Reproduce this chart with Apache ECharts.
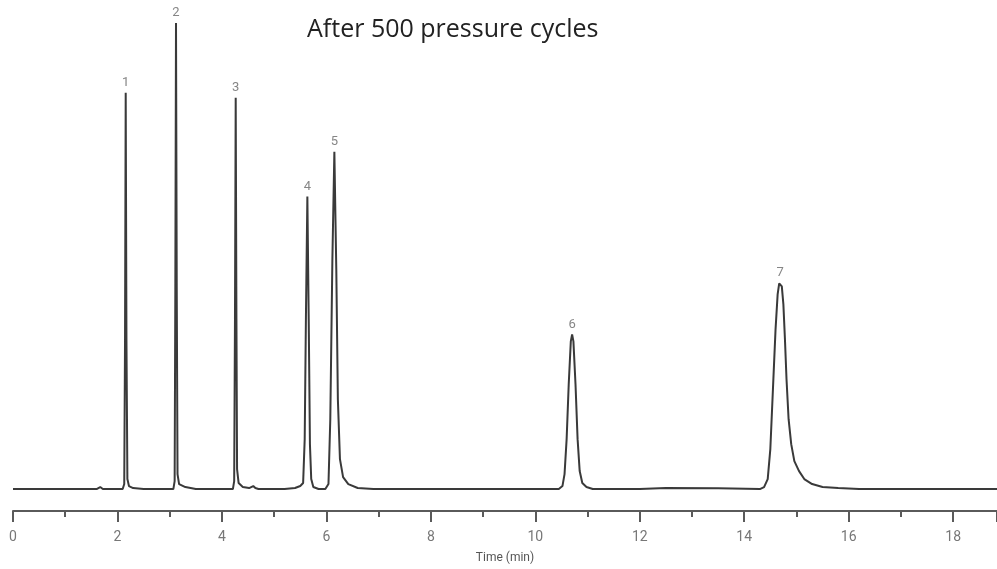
<!DOCTYPE html>
<html>
<head>
<meta charset="utf-8">
<script src="https://cdn.jsdelivr.net/npm/echarts@6/dist/echarts.min.js"></script>
<style>html,body{margin:0;padding:0;background:#fff;}#c{width:997px;height:569px;}</style>
</head>
<body>
<div id="c"></div>
<script>
// Chromatogram trace: time (min), signal (arbitrary units above baseline)
var traceTime = [
  0.00, 1.00, 1.60, 1.67, 1.72, 2.05,
  2.10, 2.13, 2.145, 2.158, 2.172, 2.19, 2.22, 2.30, 2.50,
  3.00, 3.07, 3.095, 3.108, 3.121, 3.135, 3.15, 3.18, 3.30, 3.50,
  4.15, 4.21, 4.235, 4.25, 4.264, 4.278, 4.29, 4.32, 4.40, 4.52, 4.60, 4.64, 4.70, 4.90,
  5.20, 5.40, 5.50, 5.555, 5.585, 5.61, 5.636, 5.662, 5.685, 5.71, 5.75, 5.85,
  5.98, 6.04, 6.075, 6.115, 6.153, 6.19, 6.22, 6.26, 6.32, 6.42, 6.60, 6.90,
  8.00, 10.45, 10.52, 10.56, 10.60, 10.64, 10.68, 10.705, 10.73, 10.77, 10.81, 10.85, 10.90, 10.98, 11.10,
  12.00, 12.50, 13.50, 14.30, 14.38, 14.45, 14.50, 14.55, 14.60, 14.64, 14.67, 14.69, 14.72, 14.75, 14.78,
  14.81, 14.85, 14.90, 14.96, 15.05, 15.15, 15.30, 15.50, 15.80, 16.20, 18.00, 18.84
];
var traceSignal = [
  0, 0, 0, 2, 0, 0,
  0, 5, 150, 397, 150, 10, 3, 1, 0,
  0, 0, 8, 200, 467, 200, 15, 5, 2, 0,
  0, 0, 8, 170, 392, 170, 20, 6, 2, 1, 3, 1, 0, 0,
  0, 1, 3, 6, 50, 180, 293, 170, 45, 10, 2, 0,
  0, 5, 70, 230, 338, 220, 90, 30, 12, 5, 1, 0,
  0, 0, 3, 15, 50, 105, 148, 155, 148, 105, 50, 18, 6, 2, 0,
  0, 1, 0.7, 0, 2, 10, 40, 100, 160, 195, 206, 207, 203, 185, 150,
  110, 70, 45, 28, 18, 10, 5, 2, 1, 0, 0, 0
];
// Peak apexes and their labels
var peakTime = [2.158, 3.121, 4.264, 5.636, 6.153, 10.705, 14.69];
var peakSignal = [397, 467, 392, 293, 338, 155, 207];
var peakLabel = ['1', '2', '3', '4', '5', '6', '7'];
var xTicks = ['0', '2', '4', '6', '8', '10', '12', '14', '16', '18'];

var trace = traceTime.map(function (t, i) { return [t, traceSignal[i]]; });
var peaks = peakTime.map(function (t, i) { return [t, peakSignal[i], peakLabel[i]]; });

var smallFont = 'Roboto, sans-serif';
var chart = echarts.init(document.getElementById('c'));
chart.setOption({
  animation: false,
  backgroundColor: '#ffffff',
  title: {
    text: 'After 500 pressure cycles',
    left: 302, top: 12,
    textStyle: { fontFamily: 'Open Sans', fontSize: 25, fontWeight: 'normal', color: '#222' }
  },
  grid: { left: 13, right: 0, top: 0, bottom: 57 },
  xAxis: {
    type: 'value', min: 0, max: 18.84, interval: 2,
    name: 'Time (min)', nameLocation: 'middle', nameGap: 41,
    nameTextStyle: { fontFamily: smallFont, fontSize: 12, color: '#555' },
    axisLine: { show: true, onZero: false, lineStyle: { color: '#5a5a5a', width: 2 } },
    axisTick: { show: true, length: 11, lineStyle: { color: '#5a5a5a', width: 2 } },
    minorTick: { show: true, splitNumber: 2, length: 6, lineStyle: { color: '#5a5a5a', width: 2 } },
    splitLine: { show: false },
    axisLabel: {
      margin: 19, showMaxLabel: false,
      fontFamily: smallFont, fontSize: 14, color: '#777',
      formatter: function (v) { var s = String(v); return xTicks.indexOf(s) >= 0 ? s : ''; }
    }
  },
  yAxis: {
    type: 'value', min: -22, max: 490, show: false,
    splitLine: { show: false }
  },
  series: [
    {
      type: 'line', data: trace, showSymbol: false, symbol: 'none',
      lineStyle: { color: '#3a3a3a', width: 2 }, z: 3
    },
    {
      type: 'scatter', data: peaks, symbolSize: 1,
      itemStyle: { color: 'rgba(0,0,0,0)' },
      label: {
        show: true, position: 'top', distance: 3,
        formatter: function (p) { return p.data[2]; },
        fontFamily: smallFont, fontSize: 13, color: '#666'
      }
    }
  ]
});
</script>
</body>
</html>
